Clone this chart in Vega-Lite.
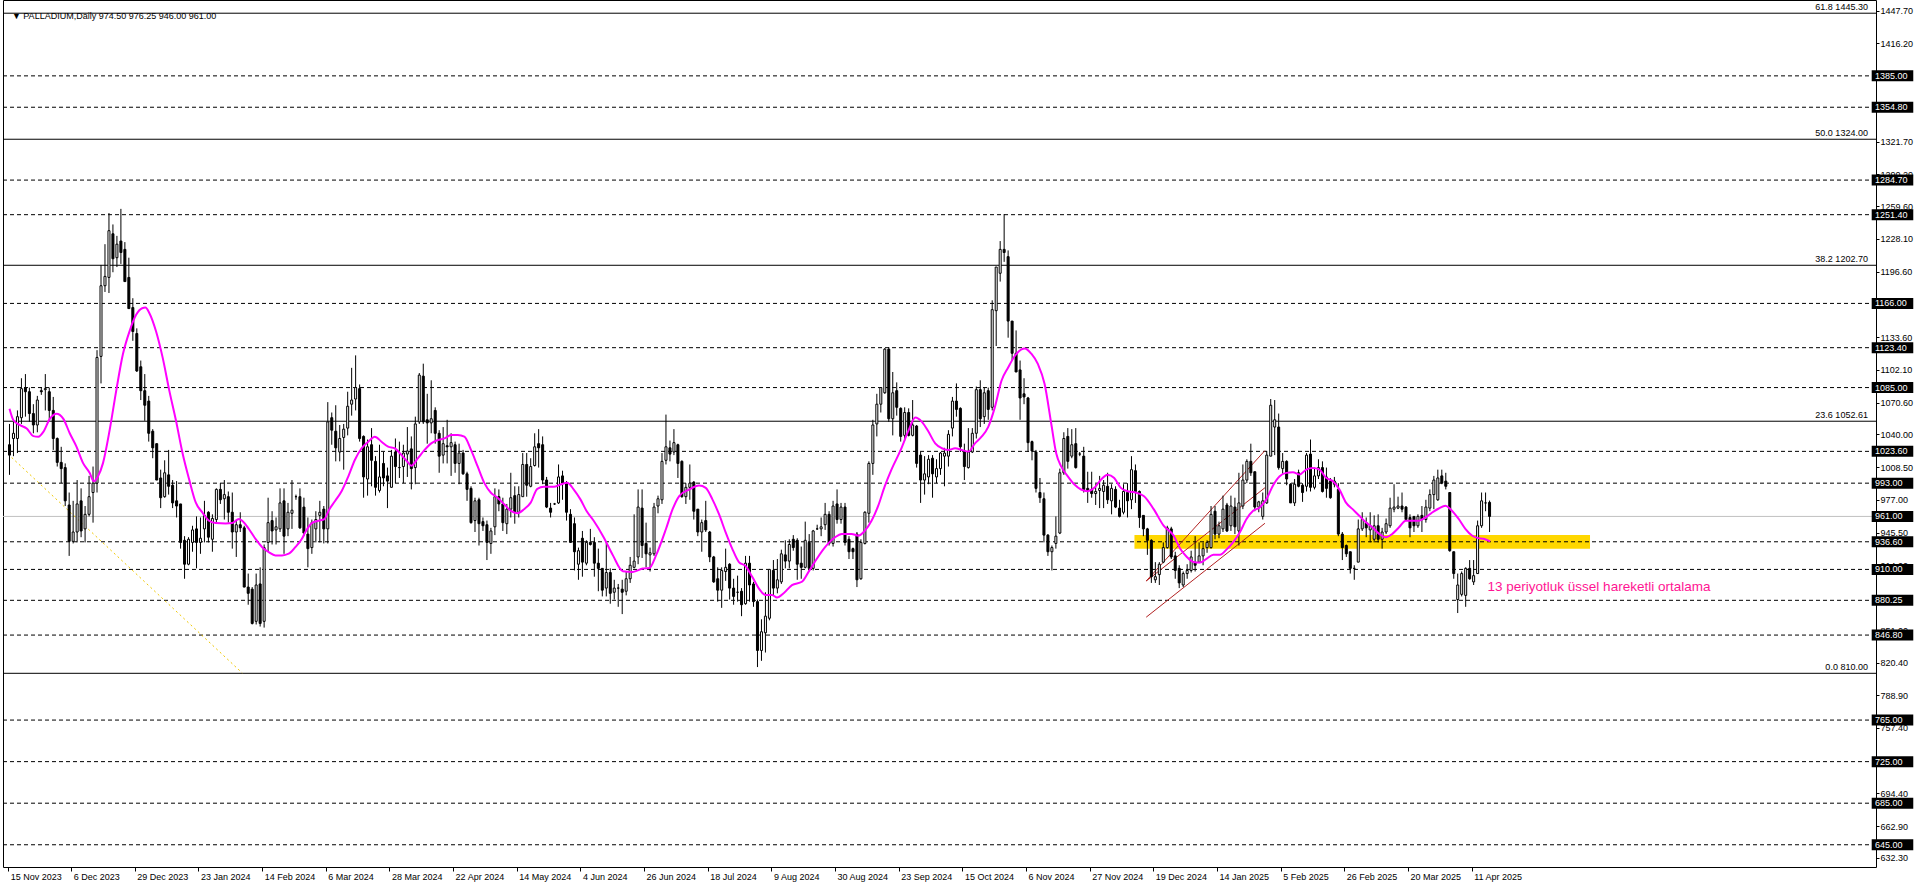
{
"$schema":"https://vega.github.io/schema/vega-lite/v6.json",
"width":1873,"height":867,
"autosize":{"type":"none"},
"padding":{"left":3,"top":0,"right":40,"bottom":21},
"background":"white",
"config":{"font":"Liberation Sans","view":{"stroke":"black","strokeWidth":1},
 "axis":{"domain":false,"grid":false,"ticks":true,"tickColor":"black","labelFont":"Liberation Sans","labelFontSize":9,"labelColor":"black","labelOverlap":false,"labelFlush":false,"labelBound":false,"labelAlign":"left","labelBaseline":"middle"},
 "axisX":{"tickSize":4,"labelPadding":5,"labelOffset":2},
 "axisY":{"tickSize":3,"labelPadding":1}},
"datasets":{
"zone":[{"start":282.75,"end":397.25,"lo":929.9,"hi":943.2}],
"levels":[{"p":1385},{"p":1354.8},{"p":1284.7},{"p":1251.4},{"p":1166},{"p":1123.4},{"p":1085},{"p":1023.6},{"p":993},{"p":936.6},{"p":910},{"p":880.25},{"p":846.8},{"p":765},{"p":725},{"p":685},{"p":645}],
"boxes":[{"p":1385},{"p":1354.8},{"p":1284.7},{"p":1251.4},{"p":1166},{"p":1123.4},{"p":1085},{"p":1023.6},{"p":993},{"p":961},{"p":936.6},{"p":910},{"p":880.25},{"p":846.8},{"p":765},{"p":725},{"p":685},{"p":645}],
"fibs":[{"p":1445.3,"t":"61.8 1445.30"},{"p":1324,"t":"50.0 1324.00"},{"p":1202.7,"t":"38.2 1202.70"},{"p":1052.61,"t":"23.6 1052.61"},{"p":810,"t":"0.0 810.00"}],
"fibdiag":[{"x1":-0.375,"y1":1021,"x2":58.5,"y2":810.3}],
"trend":[{"x1":285.7,"y1":898.8,"x2":315.55,"y2":1024.4},{"x1":285.7,"y1":898.8,"x2":315.55,"y2":988.6},{"x1":285.7,"y1":864.0,"x2":315.55,"y2":954.4}],
"notes":[{"i":371.5,"p":889,"t":"13 periyotluk üssel hareketli ortalama"}],
"head":[{"i":0.6,"p":1442.7,"t":"▼  PALLADIUM,Daily  974.50 976.25 946.00 961.00"}],
"candles":[
{"i":0,"o":1030,"h":1050,"l":1001,"c":1020},{"i":1,"o":1036,"h":1053,"l":1019,"c":1041},{"i":2,"o":1036,"h":1063,"l":1022,"c":1057},{"i":3,"o":1056,"h":1094,"l":1050,"c":1084},{"i":4,"o":1085,"h":1098,"l":1057,"c":1081},{"i":5,"o":1081,"h":1085,"l":1052,"c":1060},{"i":6,"o":1060,"h":1069,"l":1041,"c":1049},{"i":7,"o":1049,"h":1077,"l":1042,"c":1073},{"i":8,"o":1082,"h":1085,"l":1078,"c":1081},{"i":9,"o":1083,"h":1098,"l":1063,"c":1084},
{"i":10,"o":1081,"h":1085,"l":1053,"c":1063},{"i":11,"o":1063,"h":1076,"l":1025,"c":1036},{"i":12,"o":1036,"h":1037,"l":1009,"c":1013},{"i":13,"o":1013,"h":1028,"l":993,"c":1007},{"i":14,"o":1008,"h":1012,"l":971,"c":976},{"i":15,"o":972,"h":984,"l":923,"c":937},{"i":16,"o":937,"h":976,"l":935,"c":946},{"i":17,"o":946,"h":996,"l":936,"c":973},{"i":18,"o":976,"h":988,"l":941,"c":947},{"i":19,"o":949,"h":971,"l":936,"c":963},
{"i":20,"o":963,"h":1000,"l":961,"c":980},{"i":21,"o":984,"h":1009,"l":955,"c":993},{"i":22,"o":993,"h":1121,"l":984,"c":1114},{"i":23,"o":1115,"h":1203,"l":1089,"c":1183},{"i":24,"o":1183,"h":1223,"l":1177,"c":1192},{"i":25,"o":1191,"h":1253,"l":1176,"c":1236},{"i":26,"o":1233,"h":1242,"l":1196,"c":1209},{"i":27,"o":1210,"h":1231,"l":1201,"c":1223},{"i":28,"o":1226,"h":1257,"l":1204,"c":1215},{"i":29,"o":1218,"h":1225,"l":1187,"c":1187},
{"i":30,"o":1191,"h":1210,"l":1161,"c":1161},{"i":31,"o":1162,"h":1171,"l":1130,"c":1139},{"i":32,"o":1137,"h":1142,"l":1100,"c":1101},{"i":33,"o":1105,"h":1111,"l":1073,"c":1082},{"i":34,"o":1082,"h":1098,"l":1053,"c":1068},{"i":35,"o":1072,"h":1077,"l":1033,"c":1041},{"i":36,"o":1043,"h":1045,"l":1017,"c":1027},{"i":37,"o":1031,"h":1031,"l":996,"c":996},{"i":38,"o":998,"h":1006,"l":969,"c":979},{"i":39,"o":980,"h":1015,"l":979,"c":1003},
{"i":40,"o":1001,"h":1025,"l":982,"c":990},{"i":41,"o":991,"h":996,"l":969,"c":974},{"i":42,"o":976,"h":995,"l":960,"c":971},{"i":43,"o":973,"h":973,"l":930,"c":936},{"i":44,"o":938,"h":942,"l":901,"c":915},{"i":45,"o":915,"h":941,"l":914,"c":939},{"i":46,"o":936,"h":952,"l":927,"c":948},{"i":47,"o":949,"h":961,"l":911,"c":936},{"i":48,"o":936,"h":960,"l":925,"c":940},{"i":49,"o":949,"h":976,"l":936,"c":962},
{"i":50,"o":965,"h":966,"l":936,"c":941},{"i":51,"o":939,"h":963,"l":927,"c":959},{"i":52,"o":958,"h":988,"l":955,"c":987},{"i":53,"o":987,"h":993,"l":973,"c":977},{"i":54,"o":978,"h":996,"l":958,"c":982},{"i":55,"o":980,"h":985,"l":955,"c":965},{"i":56,"o":965,"h":984,"l":930,"c":946},{"i":57,"o":946,"h":958,"l":922,"c":953},{"i":58,"o":953,"h":965,"l":946,"c":950},{"i":59,"o":950,"h":952,"l":893,"c":893},
{"i":60,"o":893,"h":906,"l":876,"c":887},{"i":61,"o":891,"h":893,"l":857,"c":858},{"i":62,"o":860,"h":906,"l":857,"c":895},{"i":63,"o":896,"h":912,"l":855,"c":858},{"i":64,"o":860,"h":934,"l":854,"c":931},{"i":65,"o":936,"h":979,"l":927,"c":955},{"i":66,"o":957,"h":966,"l":934,"c":947},{"i":67,"o":948,"h":960,"l":934,"c":951},{"i":68,"o":949,"h":988,"l":946,"c":974},{"i":69,"o":976,"h":988,"l":925,"c":942},
{"i":70,"o":949,"h":974,"l":942,"c":965},{"i":71,"o":964,"h":996,"l":949,"c":967},{"i":72,"o":980,"h":982,"l":977,"c":980},{"i":73,"o":980,"h":988,"l":949,"c":950},{"i":74,"o":970,"h":979,"l":942,"c":945},{"i":75,"o":944,"h":960,"l":912,"c":930},{"i":76,"o":931,"h":958,"l":925,"c":955},{"i":77,"o":949,"h":966,"l":936,"c":958},{"i":78,"o":962,"h":976,"l":936,"c":965},{"i":79,"o":968,"h":971,"l":935,"c":949},
{"i":80,"o":949,"h":1071,"l":935,"c":1052},{"i":81,"o":1056,"h":1061,"l":1030,"c":1044},{"i":82,"o":1043,"h":1068,"l":1014,"c":1027},{"i":83,"o":1023,"h":1049,"l":1014,"c":1036},{"i":84,"o":1037,"h":1050,"l":1006,"c":1045},{"i":85,"o":1046,"h":1081,"l":1039,"c":1067},{"i":86,"o":1069,"h":1104,"l":1058,"c":1073},{"i":87,"o":1074,"h":1116,"l":1063,"c":1085},{"i":88,"o":1084,"h":1088,"l":1033,"c":1036},{"i":89,"o":1038,"h":1039,"l":979,"c":999},
{"i":90,"o":997,"h":1035,"l":981,"c":1028},{"i":91,"o":1030,"h":1046,"l":990,"c":1015},{"i":92,"o":1014,"h":1019,"l":981,"c":989},{"i":93,"o":986,"h":1030,"l":984,"c":999},{"i":94,"o":1012,"h":1023,"l":990,"c":998},{"i":95,"o":1000,"h":1008,"l":969,"c":995},{"i":96,"o":989,"h":1025,"l":989,"c":1019},{"i":97,"o":1023,"h":1036,"l":993,"c":1009},{"i":98,"o":1008,"h":1033,"l":998,"c":1008},{"i":99,"o":1009,"h":1030,"l":993,"c":1022},
{"i":100,"o":1021,"h":1047,"l":999,"c":1024},{"i":101,"o":1026,"h":1038,"l":987,"c":1007},{"i":102,"o":1008,"h":1057,"l":992,"c":1050},{"i":103,"o":1052,"h":1099,"l":1050,"c":1097},{"i":104,"o":1096,"h":1108,"l":1050,"c":1052},{"i":105,"o":1054,"h":1079,"l":1031,"c":1051},{"i":106,"o":1051,"h":1092,"l":1041,"c":1055},{"i":107,"o":1063,"h":1066,"l":1031,"c":1041},{"i":108,"o":1041,"h":1044,"l":1003,"c":1019},{"i":109,"o":1020,"h":1047,"l":1012,"c":1031},
{"i":110,"o":1029,"h":1054,"l":1012,"c":1028},{"i":111,"o":1028,"h":1041,"l":1000,"c":1032},{"i":112,"o":1030,"h":1033,"l":1003,"c":1012},{"i":113,"o":1012,"h":1031,"l":992,"c":1022},{"i":114,"o":1022,"h":1025,"l":1001,"c":1002},{"i":115,"o":1002,"h":1004,"l":976,"c":987},{"i":116,"o":988,"h":990,"l":954,"c":955},{"i":117,"o":957,"h":979,"l":946,"c":976},{"i":118,"o":977,"h":979,"l":933,"c":954},{"i":119,"o":956,"h":960,"l":947,"c":952},
{"i":120,"o":953,"h":957,"l":919,"c":936},{"i":121,"o":935,"h":950,"l":925,"c":947},{"i":122,"o":951,"h":988,"l":943,"c":980},{"i":123,"o":980,"h":987,"l":966,"c":973},{"i":124,"o":973,"h":979,"l":947,"c":955},{"i":125,"o":954,"h":973,"l":944,"c":968},{"i":126,"o":968,"h":1003,"l":960,"c":979},{"i":127,"o":981,"h":990,"l":954,"c":965},{"i":128,"o":965,"h":990,"l":960,"c":982},{"i":129,"o":980,"h":1022,"l":980,"c":1011},
{"i":130,"o":1011,"h":1022,"l":980,"c":991},{"i":131,"o":990,"h":1017,"l":989,"c":1009},{"i":132,"o":1010,"h":1041,"l":1009,"c":1028},{"i":133,"o":1031,"h":1045,"l":1008,"c":1027},{"i":134,"o":1030,"h":1038,"l":992,"c":996},{"i":135,"o":996,"h":999,"l":969,"c":970},{"i":136,"o":969,"h":974,"l":960,"c":965},{"i":137,"o":973,"h":974,"l":972,"c":973},{"i":138,"o":974,"h":1011,"l":973,"c":999},{"i":139,"o":1000,"h":1005,"l":977,"c":993},
{"i":140,"o":993,"h":995,"l":957,"c":965},{"i":141,"o":963,"h":968,"l":936,"c":936},{"i":142,"o":954,"h":960,"l":909,"c":927},{"i":143,"o":915,"h":931,"l":900,"c":928},{"i":144,"o":940,"h":947,"l":903,"c":917},{"i":145,"o":916,"h":938,"l":914,"c":936},{"i":146,"o":936,"h":949,"l":933,"c":934},{"i":147,"o":936,"h":941,"l":903,"c":916},{"i":148,"o":916,"h":930,"l":889,"c":911},{"i":149,"o":911,"h":911,"l":884,"c":890},
{"i":150,"o":892,"h":936,"l":884,"c":907},{"i":151,"o":907,"h":911,"l":877,"c":887},{"i":152,"o":888,"h":900,"l":881,"c":892},{"i":153,"o":892,"h":896,"l":874,"c":892},{"i":154,"o":891,"h":900,"l":867,"c":888},{"i":155,"o":889,"h":908,"l":885,"c":901},{"i":156,"o":901,"h":922,"l":897,"c":914},{"i":157,"o":912,"h":963,"l":911,"c":918},{"i":158,"o":922,"h":987,"l":915,"c":970},{"i":159,"o":969,"h":987,"l":921,"c":933},
{"i":160,"o":935,"h":955,"l":912,"c":925},{"i":161,"o":924,"h":931,"l":908,"c":926},{"i":162,"o":925,"h":974,"l":923,"c":970},{"i":163,"o":971,"h":981,"l":964,"c":978},{"i":164,"o":977,"h":1022,"l":973,"c":1014},{"i":165,"o":1015,"h":1059,"l":1011,"c":1028},{"i":166,"o":1027,"h":1034,"l":1014,"c":1021},{"i":167,"o":1023,"h":1045,"l":1020,"c":1032},{"i":168,"o":1030,"h":1031,"l":998,"c":1012},{"i":169,"o":1014,"h":1015,"l":979,"c":980},
{"i":170,"o":980,"h":993,"l":973,"c":989},{"i":171,"o":989,"h":1011,"l":977,"c":993},{"i":172,"o":994,"h":995,"l":958,"c":966},{"i":173,"o":968,"h":968,"l":942,"c":946},{"i":174,"o":946,"h":958,"l":927,"c":955},{"i":175,"o":957,"h":976,"l":946,"c":948},{"i":176,"o":946,"h":947,"l":917,"c":922},{"i":177,"o":922,"h":923,"l":897,"c":898},{"i":178,"o":901,"h":912,"l":879,"c":890},{"i":179,"o":890,"h":912,"l":873,"c":909},
{"i":180,"o":908,"h":930,"l":899,"c":912},{"i":181,"o":915,"h":916,"l":881,"c":892},{"i":182,"o":892,"h":901,"l":876,"c":884},{"i":183,"o":888,"h":904,"l":879,"c":888},{"i":184,"o":889,"h":892,"l":865,"c":876},{"i":185,"o":877,"h":923,"l":876,"c":916},{"i":186,"o":916,"h":923,"l":879,"c":895},{"i":187,"o":896,"h":898,"l":874,"c":879},{"i":188,"o":879,"h":881,"l":816,"c":832},{"i":189,"o":832,"h":862,"l":822,"c":850},
{"i":190,"o":849,"h":888,"l":830,"c":865},{"i":191,"o":863,"h":910,"l":861,"c":910},{"i":192,"o":909,"h":919,"l":885,"c":892},{"i":193,"o":892,"h":920,"l":887,"c":900},{"i":194,"o":898,"h":929,"l":896,"c":925},{"i":195,"o":924,"h":938,"l":911,"c":918},{"i":196,"o":918,"h":939,"l":911,"c":934},{"i":197,"o":939,"h":943,"l":928,"c":931},{"i":198,"o":938,"h":940,"l":900,"c":915},{"i":199,"o":916,"h":932,"l":901,"c":912},
{"i":200,"o":912,"h":956,"l":911,"c":938},{"i":201,"o":936,"h":944,"l":908,"c":911},{"i":202,"o":911,"h":948,"l":909,"c":947},{"i":203,"o":949,"h":953,"l":948,"c":949},{"i":204,"o":949,"h":960,"l":942,"c":951},{"i":205,"o":953,"h":974,"l":948,"c":963},{"i":206,"o":963,"h":966,"l":933,"c":935},{"i":207,"o":935,"h":976,"l":932,"c":971},{"i":208,"o":973,"h":987,"l":954,"c":958},{"i":209,"o":958,"h":974,"l":954,"c":970},
{"i":210,"o":970,"h":974,"l":933,"c":936},{"i":211,"o":939,"h":942,"l":920,"c":927},{"i":212,"o":930,"h":931,"l":920,"c":927},{"i":213,"o":944,"h":946,"l":893,"c":900},{"i":214,"o":901,"h":939,"l":900,"c":936},{"i":215,"o":935,"h":966,"l":934,"c":965},{"i":216,"o":964,"h":1014,"l":955,"c":1012},{"i":217,"o":1012,"h":1054,"l":1001,"c":1049},{"i":218,"o":1050,"h":1079,"l":1038,"c":1069},{"i":219,"o":1069,"h":1085,"l":1061,"c":1085},
{"i":220,"o":1080,"h":1123,"l":1079,"c":1122},{"i":221,"o":1122,"h":1124,"l":1052,"c":1055},{"i":222,"o":1055,"h":1100,"l":1039,"c":1080},{"i":223,"o":1082,"h":1090,"l":1058,"c":1066},{"i":224,"o":1065,"h":1066,"l":1033,"c":1038},{"i":225,"o":1039,"h":1066,"l":1034,"c":1061},{"i":226,"o":1061,"h":1065,"l":1038,"c":1039},{"i":227,"o":1039,"h":1073,"l":1038,"c":1049},{"i":228,"o":1048,"h":1049,"l":1008,"c":1012},{"i":229,"o":1020,"h":1023,"l":974,"c":996},
{"i":230,"o":996,"h":1019,"l":982,"c":1002},{"i":231,"o":999,"h":1020,"l":992,"c":1016},{"i":232,"o":1017,"h":1020,"l":979,"c":1002},{"i":233,"o":999,"h":1016,"l":993,"c":1007},{"i":234,"o":1007,"h":1023,"l":1001,"c":1022},{"i":235,"o":1019,"h":1027,"l":990,"c":1022},{"i":236,"o":1019,"h":1044,"l":1009,"c":1040},{"i":237,"o":1046,"h":1076,"l":1038,"c":1072},{"i":238,"o":1072,"h":1089,"l":1057,"c":1064},{"i":239,"o":1065,"h":1066,"l":1023,"c":1028},
{"i":240,"o":1023,"h":1031,"l":996,"c":1009},{"i":241,"o":1008,"h":1046,"l":1007,"c":1023},{"i":242,"o":1023,"h":1046,"l":1022,"c":1041},{"i":243,"o":1041,"h":1086,"l":1036,"c":1083},{"i":244,"o":1083,"h":1092,"l":1047,"c":1055},{"i":245,"o":1057,"h":1085,"l":1050,"c":1080},{"i":246,"o":1082,"h":1085,"l":1054,"c":1064},{"i":247,"o":1066,"h":1169,"l":1063,"c":1160},{"i":248,"o":1159,"h":1201,"l":1125,"c":1201},{"i":249,"o":1195,"h":1226,"l":1187,"c":1218},
{"i":250,"o":1218,"h":1252,"l":1206,"c":1215},{"i":251,"o":1211,"h":1217,"l":1133,"c":1149},{"i":252,"o":1149,"h":1149,"l":1111,"c":1118},{"i":253,"o":1118,"h":1140,"l":1100,"c":1100},{"i":254,"o":1102,"h":1111,"l":1054,"c":1075},{"i":255,"o":1079,"h":1094,"l":1069,"c":1076},{"i":256,"o":1075,"h":1076,"l":1023,"c":1032},{"i":257,"o":1033,"h":1034,"l":1015,"c":1024},{"i":258,"o":1023,"h":1025,"l":984,"c":988},{"i":259,"o":984,"h":998,"l":974,"c":979},
{"i":260,"o":978,"h":984,"l":936,"c":943},{"i":261,"o":943,"h":944,"l":923,"c":927},{"i":262,"o":927,"h":933,"l":909,"c":931},{"i":263,"o":935,"h":961,"l":930,"c":942},{"i":264,"o":945,"h":1007,"l":944,"c":1003},{"i":265,"o":1003,"h":1042,"l":1001,"c":1036},{"i":266,"o":1038,"h":1046,"l":1007,"c":1014},{"i":267,"o":1019,"h":1045,"l":1017,"c":1030},{"i":268,"o":1031,"h":1046,"l":1007,"c":1008},{"i":269,"o":1021,"h":1023,"l":1019,"c":1021},
{"i":270,"o":1019,"h":1028,"l":984,"c":987},{"i":271,"o":988,"h":1004,"l":974,"c":985},{"i":272,"o":987,"h":1004,"l":979,"c":983},{"i":273,"o":983,"h":992,"l":972,"c":985},{"i":274,"o":986,"h":1000,"l":969,"c":988},{"i":275,"o":985,"h":996,"l":969,"c":991},{"i":276,"o":990,"h":1003,"l":973,"c":977},{"i":277,"o":976,"h":992,"l":963,"c":988},{"i":278,"o":987,"h":990,"l":969,"c":970},{"i":279,"o":969,"h":977,"l":960,"c":961},
{"i":280,"o":965,"h":992,"l":963,"c":985},{"i":281,"o":984,"h":993,"l":960,"c":976},{"i":282,"o":977,"h":1019,"l":968,"c":1006},{"i":283,"o":1005,"h":1011,"l":974,"c":985},{"i":284,"o":985,"h":986,"l":950,"c":960},{"i":285,"o":962,"h":962,"l":942,"c":949},{"i":286,"o":949,"h":950,"l":924,"c":938},{"i":287,"o":938,"h":939,"l":897,"c":903},{"i":288,"o":900,"h":917,"l":897,"c":903},{"i":289,"o":905,"h":917,"l":895,"c":915},
{"i":290,"o":917,"h":936,"l":916,"c":931},{"i":291,"o":931,"h":952,"l":930,"c":950},{"i":292,"o":949,"h":951,"l":920,"c":922},{"i":293,"o":923,"h":927,"l":901,"c":909},{"i":294,"o":911,"h":914,"l":892,"c":897},{"i":295,"o":895,"h":908,"l":893,"c":906},{"i":296,"o":906,"h":915,"l":901,"c":909},{"i":297,"o":909,"h":928,"l":907,"c":922},{"i":298,"o":917,"h":942,"l":908,"c":914},{"i":299,"o":917,"h":936,"l":916,"c":923},
{"i":300,"o":923,"h":936,"l":914,"c":930},{"i":301,"o":931,"h":938,"l":926,"c":936},{"i":302,"o":931,"h":971,"l":930,"c":963},{"i":303,"o":966,"h":971,"l":939,"c":944},{"i":304,"o":944,"h":956,"l":940,"c":952},{"i":305,"o":949,"h":981,"l":946,"c":968},{"i":306,"o":972,"h":974,"l":946,"c":947},{"i":307,"o":952,"h":981,"l":947,"c":971},{"i":308,"o":970,"h":979,"l":944,"c":951},{"i":309,"o":947,"h":1003,"l":933,"c":974},
{"i":310,"o":971,"h":1011,"l":968,"c":996},{"i":311,"o":996,"h":1016,"l":993,"c":1014},{"i":312,"o":1014,"h":1031,"l":1000,"c":1003},{"i":313,"o":1004,"h":1004,"l":966,"c":970},{"i":314,"o":970,"h":976,"l":965,"c":975},{"i":315,"o":961,"h":984,"l":958,"c":976},{"i":316,"o":974,"h":1024,"l":973,"c":1020},{"i":317,"o":1019,"h":1074,"l":1019,"c":1068},{"i":318,"o":1047,"h":1073,"l":1020,"c":1054},{"i":319,"o":1047,"h":1060,"l":1006,"c":1008},
{"i":320,"o":1007,"h":1022,"l":1001,"c":1014},{"i":321,"o":1014,"h":1015,"l":991,"c":997},{"i":322,"o":992,"h":993,"l":974,"c":974},{"i":323,"o":974,"h":997,"l":971,"c":992},{"i":324,"o":1003,"h":1006,"l":989,"c":990},{"i":325,"o":991,"h":993,"l":975,"c":984},{"i":326,"o":990,"h":1022,"l":985,"c":1020},{"i":327,"o":1021,"h":1035,"l":985,"c":989},{"i":328,"o":989,"h":1008,"l":987,"c":1000},{"i":329,"o":1000,"h":1016,"l":997,"c":1008},
{"i":330,"o":1008,"h":1014,"l":984,"c":985},{"i":331,"o":999,"h":1008,"l":979,"c":988},{"i":332,"o":995,"h":998,"l":978,"c":979},{"i":333,"o":992,"h":999,"l":989,"c":995},{"i":334,"o":987,"h":993,"l":942,"c":944},{"i":335,"o":944,"h":946,"l":919,"c":931},{"i":336,"o":933,"h":934,"l":922,"c":925},{"i":337,"o":927,"h":927,"l":906,"c":911},{"i":338,"o":911,"h":914,"l":900,"c":911},{"i":339,"o":917,"h":958,"l":917,"c":949},
{"i":340,"o":949,"h":965,"l":947,"c":958},{"i":341,"o":955,"h":960,"l":941,"c":950},{"i":342,"o":948,"h":965,"l":936,"c":952},{"i":343,"o":939,"h":962,"l":936,"c":952},{"i":344,"o":952,"h":963,"l":936,"c":939},{"i":345,"o":939,"h":950,"l":930,"c":946},{"i":346,"o":946,"h":959,"l":944,"c":954},{"i":347,"o":952,"h":979,"l":950,"c":969},{"i":348,"o":968,"h":992,"l":965,"c":970},{"i":349,"o":969,"h":980,"l":968,"c":971},
{"i":350,"o":971,"h":984,"l":965,"c":968},{"i":351,"o":970,"h":971,"l":957,"c":958},{"i":352,"o":960,"h":963,"l":941,"c":950},{"i":353,"o":961,"h":961,"l":946,"c":952},{"i":354,"o":952,"h":963,"l":950,"c":961},{"i":355,"o":962,"h":971,"l":946,"c":958},{"i":356,"o":958,"h":977,"l":955,"c":970},{"i":357,"o":969,"h":987,"l":966,"c":982},{"i":358,"o":982,"h":1000,"l":968,"c":996},{"i":359,"o":977,"h":1006,"l":976,"c":998},
{"i":360,"o":1000,"h":1006,"l":992,"c":993},{"i":361,"o":995,"h":1003,"l":987,"c":990},{"i":362,"o":984,"h":984,"l":927,"c":928},{"i":363,"o":927,"h":927,"l":901,"c":906},{"i":364,"o":881,"h":906,"l":868,"c":895},{"i":365,"o":886,"h":908,"l":884,"c":906},{"i":366,"o":885,"h":912,"l":874,"c":911},{"i":367,"o":911,"h":919,"l":900,"c":901},{"i":368,"o":898,"h":919,"l":895,"c":904},{"i":369,"o":906,"h":957,"l":906,"c":952},
{"i":370,"o":952,"h":984,"l":950,"c":976},{"i":371,"o":974,"h":984,"l":966,"c":974},{"i":372,"o":974.5,"h":976.25,"l":946,"c":961}
],
"ema":[
{"i":0,"v":1064.6},{"i":1,"v":1053.5},{"i":2.67,"v":1048.8},{"i":4.33,"v":1045.6},{"i":6,"v":1038.3},{"i":7.25,"v":1037.7},{"i":8.5,"v":1042.4},{"i":10.17,"v":1055.1},{"i":11.83,"v":1059.9},{"i":13.5,"v":1055.1},{"i":15.17,"v":1040.8},{"i":16.83,"v":1028.2},{"i":18.5,"v":1012.3},{"i":20.17,"v":1002.8},{"i":21.17,"v":994.8},{"i":22.25,"v":999.6},{"i":23.5,"v":1012.3},{"i":25.17,"v":1044},{"i":26.83,"v":1082.1},{"i":28.5,"v":1117},{"i":30.17,"v":1139.2},{"i":31.83,"v":1155},{"i":33.33,"v":1161.4},{"i":34.17,"v":1162},{"i":35.17,"v":1156.6},{"i":36.83,"v":1139.2},{"i":38.5,"v":1113.8},{"i":40.17,"v":1082.1},{"i":41.83,"v":1053.5},{"i":43.5,"v":1021.8},{"i":45.17,"v":996.4},{"i":46.83,"v":974.2},{"i":48.5,"v":964.7},{"i":50.17,"v":956.8},{"i":51.83,"v":954.6},{"i":54.33,"v":954.2},{"i":56,"v":954.6},{"i":57.67,"v":958.4},{"i":58.92,"v":955.2},{"i":60.17,"v":948.9},{"i":61.83,"v":939.4},{"i":63.5,"v":931.4},{"i":65.17,"v":926.7},{"i":66.83,"v":923.5},{"i":68.5,"v":923.5},{"i":70.17,"v":925.1},{"i":71.83,"v":931.4},{"i":73.5,"v":939.4},{"i":74.33,"v":945.7},{"i":76,"v":954.6},{"i":77.67,"v":956.8},{"i":79.17,"v":958.4},{"i":80.17,"v":966.3},{"i":81.83,"v":975.8},{"i":83.5,"v":985.4},{"i":85.17,"v":999.6},{"i":86.83,"v":1015.5},{"i":88.5,"v":1026.6},{"i":90.17,"v":1032.9},{"i":91.83,"v":1037.7},{"i":93.5,"v":1032.9},{"i":95.17,"v":1028.2},{"i":96.83,"v":1026.6},{"i":98.5,"v":1020.2},{"i":100.17,"v":1012.9},{"i":101,"v":1009.8},{"i":102.67,"v":1017.1},{"i":104.33,"v":1025},{"i":106,"v":1031.3},{"i":107.67,"v":1034.5},{"i":109.33,"v":1036.1},{"i":111,"v":1039.3},{"i":112.67,"v":1039.3},{"i":114.33,"v":1037.7},{"i":116,"v":1025},{"i":117.67,"v":1009.1},{"i":119.33,"v":993.3},{"i":121,"v":983.8},{"i":122.67,"v":979},{"i":124.33,"v":972.7},{"i":126,"v":966.3},{"i":127.67,"v":964.1},{"i":129.33,"v":967.9},{"i":131,"v":974.3},{"i":132.67,"v":987.6},{"i":134.33,"v":989.5},{"i":136.83,"v":989.5},{"i":138.5,"v":991.7},{"i":140.17,"v":993.3},{"i":141.83,"v":986.9},{"i":143.5,"v":977.4},{"i":145.17,"v":965.4},{"i":146.83,"v":956.8},{"i":149.33,"v":941},{"i":151.67,"v":923.5},{"i":154.17,"v":908.3},{"i":156.67,"v":907.6},{"i":159.17,"v":910.8},{"i":160.83,"v":911.4},{"i":162.5,"v":923.5},{"i":165,"v":948.9},{"i":166.67,"v":967.9},{"i":168.33,"v":980.6},{"i":170.83,"v":986.9},{"i":173.33,"v":990.7},{"i":175,"v":988.5},{"i":176.67,"v":977.4},{"i":178.33,"v":963.1},{"i":180,"v":945.7},{"i":181.67,"v":929.8},{"i":183.33,"v":917.1},{"i":185,"v":913.3},{"i":186.67,"v":902.9},{"i":188.33,"v":891.8},{"i":190,"v":885.4},{"i":191.67,"v":885.4},{"i":192.92,"v":882.9},{"i":194.58,"v":887},{"i":196.67,"v":894.9},{"i":199.17,"v":898.1},{"i":200.83,"v":907.6},{"i":202.92,"v":920.3},{"i":205,"v":931.4},{"i":207.5,"v":940.9},{"i":209.17,"v":944.1},{"i":211.67,"v":944.1},{"i":213.33,"v":942.5},{"i":215,"v":947.3},{"i":216.67,"v":956.8},{"i":218.33,"v":971.1},{"i":220,"v":990.1},{"i":221.67,"v":1006},{"i":224,"v":1025},{"i":226,"v":1044},{"i":227.67,"v":1056.1},{"i":229.33,"v":1052},{"i":231,"v":1042.4},{"i":232.67,"v":1031.3},{"i":234.33,"v":1026.6},{"i":236,"v":1025},{"i":237.67,"v":1026.6},{"i":239.33,"v":1025},{"i":241,"v":1023.4},{"i":242.67,"v":1031.3},{"i":244.33,"v":1037.7},{"i":246,"v":1047.2},{"i":247.67,"v":1066.2},{"i":249.33,"v":1091.6},{"i":251,"v":1104.3},{"i":252.67,"v":1115.4},{"i":254.33,"v":1121.7},{"i":255.17,"v":1122.7},{"i":256.83,"v":1117.6},{"i":258.5,"v":1107.5},{"i":260.17,"v":1088.4},{"i":261.83,"v":1050.4},{"i":263.08,"v":1021.8},{"i":264.33,"v":1009.1},{"i":266,"v":999.6},{"i":267.67,"v":991.7},{"i":269.33,"v":986.9},{"i":271,"v":985.3},{"i":272.67,"v":988.5},{"i":274.33,"v":996.4},{"i":276,"v":1001.2},{"i":277.67,"v":998},{"i":279.33,"v":988.5},{"i":281,"v":985.3},{"i":282.5,"v":984.5},{"i":285.08,"v":980.7},{"i":287.58,"v":968},{"i":290.08,"v":952.1},{"i":292.58,"v":942.6},{"i":294.25,"v":929.9},{"i":295.92,"v":922},{"i":297.58,"v":917.2},{"i":299.25,"v":916.6},{"i":300.92,"v":920.4},{"i":302.58,"v":924.2},{"i":304.25,"v":924.2},{"i":305.92,"v":929.3},{"i":307.58,"v":936.3},{"i":309.25,"v":945.8},{"i":310.92,"v":958.5},{"i":312.58,"v":966.4},{"i":314.25,"v":969.6},{"i":315.92,"v":977.5},{"i":317.58,"v":990.8},{"i":319.25,"v":999.7},{"i":320.92,"v":1002.9},{"i":322.58,"v":1003.5},{"i":324.25,"v":1001.3},{"i":325.92,"v":1006.1},{"i":327.58,"v":1007.6},{"i":329.25,"v":1006.1},{"i":330.92,"v":998.1},{"i":332.58,"v":995},{"i":334.25,"v":987},{"i":335.92,"v":974.3},{"i":337.58,"v":968},{"i":339.25,"v":961.6},{"i":340.92,"v":955.3},{"i":342.58,"v":950.5},{"i":344.25,"v":944.2},{"i":345.92,"v":941},{"i":347.58,"v":944.2},{"i":349.25,"v":950.5},{"i":350.92,"v":956.9},{"i":352.58,"v":956.9},{"i":354.25,"v":956.9},{"i":355.92,"v":960.1},{"i":357.58,"v":964.8},{"i":359.25,"v":968.6},{"i":360.92,"v":971.2},{"i":362.17,"v":968},{"i":364.25,"v":958.5},{"i":365.92,"v":949},{"i":367.58,"v":942.6},{"i":369.17,"v":940.1},{"i":370.5,"v":939.5},{"i":372.17,"v":936.9}
]
},
"layer":[
{"data":{"name":"zone"},"mark":{"type":"rect","fill":"#FFD700"},
 "encoding":{"x":{"field":"start","type":"quantitative","scale":{"domain":[-0.375,467.875],"nice":false,"zero":false},"axis":{"orient":"bottom","title":null,"values":[-0.3,15.5,31.5,47.5,63.5,79.5,95.5,111.5,127.5,143.5,159.5,175.5,191.5,207.5,223.5,239.5,255.5,271.5,287.5,303.5,319.5,335.5,351.5,367.5],"labelExpr":"['15 Nov 2023','6 Dec 2023','29 Dec 2023','23 Jan 2024','14 Feb 2024','6 Mar 2024','28 Mar 2024','22 Apr 2024','14 May 2024','4 Jun 2024','26 Jun 2024','18 Jul 2024','9 Aug 2024','30 Aug 2024','23 Sep 2024','15 Oct 2024','6 Nov 2024','27 Nov 2024','19 Dec 2024','14 Jan 2025','5 Feb 2025','26 Feb 2025','20 Mar 2025','11 Apr 2025'][round((datum.value+0.5)/16)]"}},"x2":{"field":"end"},
 "y":{"field":"lo","type":"quantitative","scale":{"domain":[628.4,1453.2],"nice":false,"zero":false},"axis":{"orient":"right","title":null,"format":".2f","values":[1447.7,1416.2,1321.7,1290.2,1259.6,1228.1,1196.6,1133.6,1102.1,1070.6,1040,1008.5,977,945.5,914,851,820.4,788.9,757.4,694.4,662.9,632.3]}},"y2":{"field":"hi"}}},
{"data":{"name":"levels"},"mark":{"type":"rule","stroke":"black","strokeWidth":1,"strokeDash":[4,3]},
 "encoding":{"y":{"field":"p","type":"quantitative","scale":{"domain":[628.4,1453.2],"nice":false,"zero":false},"axis":{"orient":"right","title":null,"format":".2f","values":[1447.7,1416.2,1321.7,1290.2,1259.6,1228.1,1196.6,1133.6,1102.1,1070.6,1040,1008.5,977,945.5,914,851,820.4,788.9,757.4,694.4,662.9,632.3]}}}},
{"data":{"name":"fibs"},"mark":{"type":"rule","stroke":"black","strokeWidth":1},
 "encoding":{"y":{"field":"p","type":"quantitative","scale":{"domain":[628.4,1453.2],"nice":false,"zero":false},"axis":{"orient":"right","title":null,"format":".2f","values":[1447.7,1416.2,1321.7,1290.2,1259.6,1228.1,1196.6,1133.6,1102.1,1070.6,1040,1008.5,977,945.5,914,851,820.4,788.9,757.4,694.4,662.9,632.3]}}}},
{"data":{"values":[{"p":961}]},"mark":{"type":"rule","stroke":"#C0C0C0","strokeWidth":1},
 "encoding":{"y":{"field":"p","type":"quantitative","scale":{"domain":[628.4,1453.2],"nice":false,"zero":false},"axis":{"orient":"right","title":null,"format":".2f","values":[1447.7,1416.2,1321.7,1290.2,1259.6,1228.1,1196.6,1133.6,1102.1,1070.6,1040,1008.5,977,945.5,914,851,820.4,788.9,757.4,694.4,662.9,632.3]}}}},
{"data":{"name":"fibdiag"},"mark":{"type":"rule","stroke":"#F0C800","strokeWidth":1,"strokeDash":[2,3]},
 "encoding":{"x":{"field":"x1","type":"quantitative","scale":{"domain":[-0.375,467.875],"nice":false,"zero":false},"axis":{"orient":"bottom","title":null,"values":[-0.3,15.5,31.5,47.5,63.5,79.5,95.5,111.5,127.5,143.5,159.5,175.5,191.5,207.5,223.5,239.5,255.5,271.5,287.5,303.5,319.5,335.5,351.5,367.5],"labelExpr":"['15 Nov 2023','6 Dec 2023','29 Dec 2023','23 Jan 2024','14 Feb 2024','6 Mar 2024','28 Mar 2024','22 Apr 2024','14 May 2024','4 Jun 2024','26 Jun 2024','18 Jul 2024','9 Aug 2024','30 Aug 2024','23 Sep 2024','15 Oct 2024','6 Nov 2024','27 Nov 2024','19 Dec 2024','14 Jan 2025','5 Feb 2025','26 Feb 2025','20 Mar 2025','11 Apr 2025'][round((datum.value+0.5)/16)]"}},"x2":{"field":"x2"},
 "y":{"field":"y1","type":"quantitative","scale":{"domain":[628.4,1453.2],"nice":false,"zero":false},"axis":{"orient":"right","title":null,"format":".2f","values":[1447.7,1416.2,1321.7,1290.2,1259.6,1228.1,1196.6,1133.6,1102.1,1070.6,1040,1008.5,977,945.5,914,851,820.4,788.9,757.4,694.4,662.9,632.3]}},"y2":{"field":"y2"}}},
{"data":{"name":"trend"},"mark":{"type":"rule","stroke":"#B22222","strokeWidth":1},
 "encoding":{"x":{"field":"x1","type":"quantitative","scale":{"domain":[-0.375,467.875],"nice":false,"zero":false},"axis":{"orient":"bottom","title":null,"values":[-0.3,15.5,31.5,47.5,63.5,79.5,95.5,111.5,127.5,143.5,159.5,175.5,191.5,207.5,223.5,239.5,255.5,271.5,287.5,303.5,319.5,335.5,351.5,367.5],"labelExpr":"['15 Nov 2023','6 Dec 2023','29 Dec 2023','23 Jan 2024','14 Feb 2024','6 Mar 2024','28 Mar 2024','22 Apr 2024','14 May 2024','4 Jun 2024','26 Jun 2024','18 Jul 2024','9 Aug 2024','30 Aug 2024','23 Sep 2024','15 Oct 2024','6 Nov 2024','27 Nov 2024','19 Dec 2024','14 Jan 2025','5 Feb 2025','26 Feb 2025','20 Mar 2025','11 Apr 2025'][round((datum.value+0.5)/16)]"}},"x2":{"field":"x2"},
 "y":{"field":"y1","type":"quantitative","scale":{"domain":[628.4,1453.2],"nice":false,"zero":false},"axis":{"orient":"right","title":null,"format":".2f","values":[1447.7,1416.2,1321.7,1290.2,1259.6,1228.1,1196.6,1133.6,1102.1,1070.6,1040,1008.5,977,945.5,914,851,820.4,788.9,757.4,694.4,662.9,632.3]}},"y2":{"field":"y2"}}},
{"data":{"name":"candles"},"mark":{"type":"rule","stroke":"black","strokeWidth":1},
 "encoding":{"x":{"field":"i","type":"quantitative","scale":{"domain":[-0.375,467.875],"nice":false,"zero":false},"axis":{"orient":"bottom","title":null,"values":[-0.3,15.5,31.5,47.5,63.5,79.5,95.5,111.5,127.5,143.5,159.5,175.5,191.5,207.5,223.5,239.5,255.5,271.5,287.5,303.5,319.5,335.5,351.5,367.5],"labelExpr":"['15 Nov 2023','6 Dec 2023','29 Dec 2023','23 Jan 2024','14 Feb 2024','6 Mar 2024','28 Mar 2024','22 Apr 2024','14 May 2024','4 Jun 2024','26 Jun 2024','18 Jul 2024','9 Aug 2024','30 Aug 2024','23 Sep 2024','15 Oct 2024','6 Nov 2024','27 Nov 2024','19 Dec 2024','14 Jan 2025','5 Feb 2025','26 Feb 2025','20 Mar 2025','11 Apr 2025'][round((datum.value+0.5)/16)]"}},
  "y":{"field":"l","type":"quantitative","scale":{"domain":[628.4,1453.2],"nice":false,"zero":false},"axis":{"orient":"right","title":null,"format":".2f","values":[1447.7,1416.2,1321.7,1290.2,1259.6,1228.1,1196.6,1133.6,1102.1,1070.6,1040,1008.5,977,945.5,914,851,820.4,788.9,757.4,694.4,662.9,632.3]}},"y2":{"field":"h"}}},
{"data":{"name":"candles"},"mark":{"type":"bar","size":2,"stroke":"black","strokeWidth":1},
 "encoding":{"x":{"field":"i","type":"quantitative","scale":{"domain":[-0.375,467.875],"nice":false,"zero":false},"axis":{"orient":"bottom","title":null,"values":[-0.3,15.5,31.5,47.5,63.5,79.5,95.5,111.5,127.5,143.5,159.5,175.5,191.5,207.5,223.5,239.5,255.5,271.5,287.5,303.5,319.5,335.5,351.5,367.5],"labelExpr":"['15 Nov 2023','6 Dec 2023','29 Dec 2023','23 Jan 2024','14 Feb 2024','6 Mar 2024','28 Mar 2024','22 Apr 2024','14 May 2024','4 Jun 2024','26 Jun 2024','18 Jul 2024','9 Aug 2024','30 Aug 2024','23 Sep 2024','15 Oct 2024','6 Nov 2024','27 Nov 2024','19 Dec 2024','14 Jan 2025','5 Feb 2025','26 Feb 2025','20 Mar 2025','11 Apr 2025'][round((datum.value+0.5)/16)]"}},
  "y":{"field":"o","type":"quantitative","scale":{"domain":[628.4,1453.2],"nice":false,"zero":false},"axis":{"orient":"right","title":null,"format":".2f","values":[1447.7,1416.2,1321.7,1290.2,1259.6,1228.1,1196.6,1133.6,1102.1,1070.6,1040,1008.5,977,945.5,914,851,820.4,788.9,757.4,694.4,662.9,632.3]}},"y2":{"field":"c"},
  "fill":{"condition":{"test":"datum.c >= datum.o","value":"white"},"value":"black"}}},
{"data":{"name":"ema"},"mark":{"type":"line","stroke":"#FF00FF","strokeWidth":2,"interpolate":"monotone"},
 "encoding":{"x":{"field":"i","type":"quantitative","scale":{"domain":[-0.375,467.875],"nice":false,"zero":false},"axis":{"orient":"bottom","title":null,"values":[-0.3,15.5,31.5,47.5,63.5,79.5,95.5,111.5,127.5,143.5,159.5,175.5,191.5,207.5,223.5,239.5,255.5,271.5,287.5,303.5,319.5,335.5,351.5,367.5],"labelExpr":"['15 Nov 2023','6 Dec 2023','29 Dec 2023','23 Jan 2024','14 Feb 2024','6 Mar 2024','28 Mar 2024','22 Apr 2024','14 May 2024','4 Jun 2024','26 Jun 2024','18 Jul 2024','9 Aug 2024','30 Aug 2024','23 Sep 2024','15 Oct 2024','6 Nov 2024','27 Nov 2024','19 Dec 2024','14 Jan 2025','5 Feb 2025','26 Feb 2025','20 Mar 2025','11 Apr 2025'][round((datum.value+0.5)/16)]"}},
  "y":{"field":"v","type":"quantitative","scale":{"domain":[628.4,1453.2],"nice":false,"zero":false},"axis":{"orient":"right","title":null,"format":".2f","values":[1447.7,1416.2,1321.7,1290.2,1259.6,1228.1,1196.6,1133.6,1102.1,1070.6,1040,1008.5,977,945.5,914,851,820.4,788.9,757.4,694.4,662.9,632.3]}}}},
{"data":{"name":"fibs"},"mark":{"type":"text","align":"right","baseline":"alphabetic","dy":-3,"fontSize":9,"color":"black","font":"Liberation Sans"},
 "encoding":{"x":{"datum":467.1,"type":"quantitative","scale":{"domain":[-0.375,467.875],"nice":false,"zero":false},"axis":{"orient":"bottom","title":null,"values":[-0.3,15.5,31.5,47.5,63.5,79.5,95.5,111.5,127.5,143.5,159.5,175.5,191.5,207.5,223.5,239.5,255.5,271.5,287.5,303.5,319.5,335.5,351.5,367.5],"labelExpr":"['15 Nov 2023','6 Dec 2023','29 Dec 2023','23 Jan 2024','14 Feb 2024','6 Mar 2024','28 Mar 2024','22 Apr 2024','14 May 2024','4 Jun 2024','26 Jun 2024','18 Jul 2024','9 Aug 2024','30 Aug 2024','23 Sep 2024','15 Oct 2024','6 Nov 2024','27 Nov 2024','19 Dec 2024','14 Jan 2025','5 Feb 2025','26 Feb 2025','20 Mar 2025','11 Apr 2025'][round((datum.value+0.5)/16)]"}},
  "y":{"field":"p","type":"quantitative","scale":{"domain":[628.4,1453.2],"nice":false,"zero":false},"axis":{"orient":"right","title":null,"format":".2f","values":[1447.7,1416.2,1321.7,1290.2,1259.6,1228.1,1196.6,1133.6,1102.1,1070.6,1040,1008.5,977,945.5,914,851,820.4,788.9,757.4,694.4,662.9,632.3]}},"text":{"field":"t"}}},
{"data":{"name":"notes"},"mark":{"type":"text","align":"left","baseline":"alphabetic","fontSize":13.5,"color":"#FF1493","font":"Liberation Sans"},
 "encoding":{"x":{"field":"i","type":"quantitative","scale":{"domain":[-0.375,467.875],"nice":false,"zero":false},"axis":{"orient":"bottom","title":null,"values":[-0.3,15.5,31.5,47.5,63.5,79.5,95.5,111.5,127.5,143.5,159.5,175.5,191.5,207.5,223.5,239.5,255.5,271.5,287.5,303.5,319.5,335.5,351.5,367.5],"labelExpr":"['15 Nov 2023','6 Dec 2023','29 Dec 2023','23 Jan 2024','14 Feb 2024','6 Mar 2024','28 Mar 2024','22 Apr 2024','14 May 2024','4 Jun 2024','26 Jun 2024','18 Jul 2024','9 Aug 2024','30 Aug 2024','23 Sep 2024','15 Oct 2024','6 Nov 2024','27 Nov 2024','19 Dec 2024','14 Jan 2025','5 Feb 2025','26 Feb 2025','20 Mar 2025','11 Apr 2025'][round((datum.value+0.5)/16)]"}},
  "y":{"field":"p","type":"quantitative","scale":{"domain":[628.4,1453.2],"nice":false,"zero":false},"axis":{"orient":"right","title":null,"format":".2f","values":[1447.7,1416.2,1321.7,1290.2,1259.6,1228.1,1196.6,1133.6,1102.1,1070.6,1040,1008.5,977,945.5,914,851,820.4,788.9,757.4,694.4,662.9,632.3]}},"text":{"field":"t"}}},
{"data":{"name":"head"},"mark":{"type":"text","align":"left","baseline":"middle","fontSize":9,"color":"black","font":"Liberation Sans"},
 "encoding":{"x":{"field":"i","type":"quantitative","scale":{"domain":[-0.375,467.875],"nice":false,"zero":false},"axis":{"orient":"bottom","title":null,"values":[-0.3,15.5,31.5,47.5,63.5,79.5,95.5,111.5,127.5,143.5,159.5,175.5,191.5,207.5,223.5,239.5,255.5,271.5,287.5,303.5,319.5,335.5,351.5,367.5],"labelExpr":"['15 Nov 2023','6 Dec 2023','29 Dec 2023','23 Jan 2024','14 Feb 2024','6 Mar 2024','28 Mar 2024','22 Apr 2024','14 May 2024','4 Jun 2024','26 Jun 2024','18 Jul 2024','9 Aug 2024','30 Aug 2024','23 Sep 2024','15 Oct 2024','6 Nov 2024','27 Nov 2024','19 Dec 2024','14 Jan 2025','5 Feb 2025','26 Feb 2025','20 Mar 2025','11 Apr 2025'][round((datum.value+0.5)/16)]"}},
  "y":{"field":"p","type":"quantitative","scale":{"domain":[628.4,1453.2],"nice":false,"zero":false},"axis":{"orient":"right","title":null,"format":".2f","values":[1447.7,1416.2,1321.7,1290.2,1259.6,1228.1,1196.6,1133.6,1102.1,1070.6,1040,1008.5,977,945.5,914,851,820.4,788.9,757.4,694.4,662.9,632.3]}},"text":{"field":"t"}}},
{"data":{"name":"boxes"},"mark":{"type":"bar","orient":"horizontal","size":11,"fill":"black"},
 "encoding":{"x":{"datum":468.05,"type":"quantitative","scale":{"domain":[-0.375,467.875],"nice":false,"zero":false},"axis":{"orient":"bottom","title":null,"values":[-0.3,15.5,31.5,47.5,63.5,79.5,95.5,111.5,127.5,143.5,159.5,175.5,191.5,207.5,223.5,239.5,255.5,271.5,287.5,303.5,319.5,335.5,351.5,367.5],"labelExpr":"['15 Nov 2023','6 Dec 2023','29 Dec 2023','23 Jan 2024','14 Feb 2024','6 Mar 2024','28 Mar 2024','22 Apr 2024','14 May 2024','4 Jun 2024','26 Jun 2024','18 Jul 2024','9 Aug 2024','30 Aug 2024','23 Sep 2024','15 Oct 2024','6 Nov 2024','27 Nov 2024','19 Dec 2024','14 Jan 2025','5 Feb 2025','26 Feb 2025','20 Mar 2025','11 Apr 2025'][round((datum.value+0.5)/16)]"}},"x2":{"datum":478.5},
  "y":{"field":"p","type":"quantitative","scale":{"domain":[628.4,1453.2],"nice":false,"zero":false},"axis":{"orient":"right","title":null,"format":".2f","values":[1447.7,1416.2,1321.7,1290.2,1259.6,1228.1,1196.6,1133.6,1102.1,1070.6,1040,1008.5,977,945.5,914,851,820.4,788.9,757.4,694.4,662.9,632.3]}}}},
{"data":{"name":"boxes"},"mark":{"type":"text","align":"left","baseline":"middle","fontSize":9,"color":"white","font":"Liberation Sans"},
 "encoding":{"x":{"datum":468.875,"type":"quantitative","scale":{"domain":[-0.375,467.875],"nice":false,"zero":false},"axis":{"orient":"bottom","title":null,"values":[-0.3,15.5,31.5,47.5,63.5,79.5,95.5,111.5,127.5,143.5,159.5,175.5,191.5,207.5,223.5,239.5,255.5,271.5,287.5,303.5,319.5,335.5,351.5,367.5],"labelExpr":"['15 Nov 2023','6 Dec 2023','29 Dec 2023','23 Jan 2024','14 Feb 2024','6 Mar 2024','28 Mar 2024','22 Apr 2024','14 May 2024','4 Jun 2024','26 Jun 2024','18 Jul 2024','9 Aug 2024','30 Aug 2024','23 Sep 2024','15 Oct 2024','6 Nov 2024','27 Nov 2024','19 Dec 2024','14 Jan 2025','5 Feb 2025','26 Feb 2025','20 Mar 2025','11 Apr 2025'][round((datum.value+0.5)/16)]"}},
  "y":{"field":"p","type":"quantitative","scale":{"domain":[628.4,1453.2],"nice":false,"zero":false},"axis":{"orient":"right","title":null,"format":".2f","values":[1447.7,1416.2,1321.7,1290.2,1259.6,1228.1,1196.6,1133.6,1102.1,1070.6,1040,1008.5,977,945.5,914,851,820.4,788.9,757.4,694.4,662.9,632.3]}},"text":{"field":"p","type":"quantitative","format":".2f"}}}
]
}
